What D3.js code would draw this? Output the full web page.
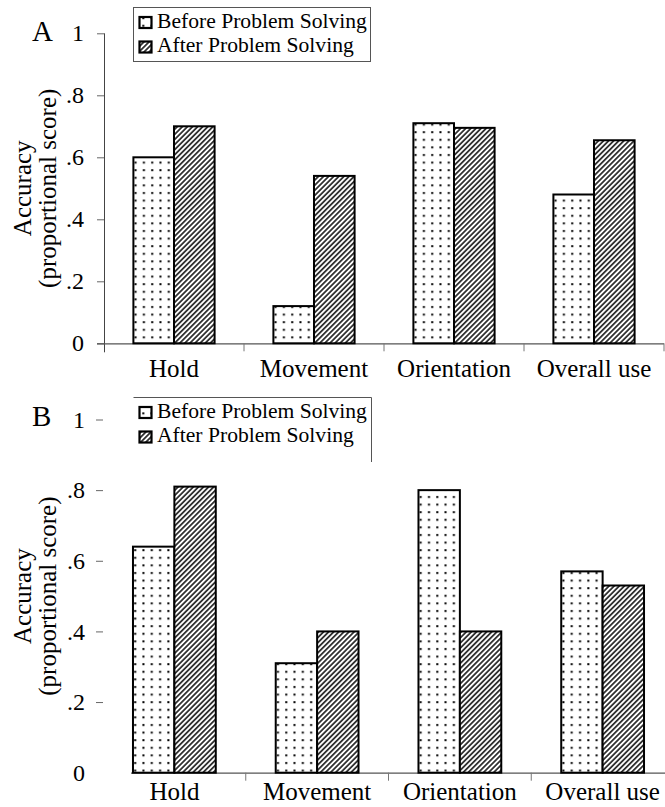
<!DOCTYPE html>
<html>
<head>
<meta charset="utf-8">
<script src="https://cdn.jsdelivr.net/npm/d3@7"></script>
<style>
  html, body { margin: 0; padding: 0; background: #fff; }
  svg { display: block; }
  svg text { font-family: "Liberation Serif", Tinos, "Times New Roman", "DejaVu Serif", serif !important; fill: #000; }
</style>
</head>
<body>
<svg id="chart" width="665" height="807"></svg>
<script>
// Accuracy before and after problem solving, two panels (A and B)
const categories = ["Hold", "Movement", "Orientation", "Overall use"];
const seriesNames = ["Before Problem Solving", "After Problem Solving"];
const beforeA = [0.60, 0.12, 0.71, 0.48];
const afterA  = [0.70, 0.54, 0.695, 0.655];
const beforeB = [0.64, 0.31, 0.80, 0.57];
const afterB  = [0.81, 0.40, 0.40, 0.53];
const yTicks = [0, 0.2, 0.4, 0.6, 0.8, 1];
const yTickLabels = ["0", ".2", ".4", ".6", ".8", "1"];
const yTitle = ["Accuracy", "(proportional score)"];

const FONT = "'Liberation Serif', Tinos, 'Times New Roman', 'DejaVu Serif', serif";

const svg = d3.select("#chart");
const defs = svg.append("defs");

// dotted fill
const dots = defs.append("pattern")
  .attr("id", "dots").attr("patternUnits", "userSpaceOnUse")
  .attr("width", 8.3).attr("height", 7.6);
dots.append("rect").attr("width", 8.3).attr("height", 7.6).attr("fill", "#fff");
dots.append("rect").attr("x", 1.2).attr("y", 2).attr("width", 2).attr("height", 2).attr("fill", "#000");

// diagonal hatch fill
const hatch = defs.append("pattern")
  .attr("id", "hatch").attr("patternUnits", "userSpaceOnUse")
  .attr("width", 3.6).attr("height", 10)
  .attr("patternTransform", "rotate(45)");
hatch.append("rect").attr("width", 3.6).attr("height", 10).attr("fill", "#fff");
hatch.append("line").attr("x1", 1.8).attr("x2", 1.8).attr("y1", 0).attr("y2", 10)
  .attr("stroke", "#000").attr("stroke-width", 1.45);

const fills = ["url(#dots)", "url(#hatch)"];

function drawPanel(cfg) {
  const g = svg.append("g").attr("font-family", FONT);
  const data = categories.map((c, i) => ({ cat: c, values: [cfg.before[i], cfg.after[i]] }));

  const x = d3.scaleBand().domain(categories).range([cfg.x0, cfg.x1]).padding(0);
  const groupW = x.bandwidth() * 0.58;
  const xs = d3.scaleBand().domain([0, 1]).range([0, groupW]).padding(0);
  const y = d3.scaleLinear().domain([0, 1]).range([cfg.yBase, cfg.yTop]);

  // y axis
  const yAxis = d3.axisLeft(y).tickValues(yTicks)
    .tickFormat((d, i) => yTickLabels[i]).tickSize(7).tickPadding(cfg.tickPad);
  const ya = g.append("g").attr("transform", `translate(${cfg.x0},0)`).call(yAxis)
    .attr("font-family", FONT);
  ya.select(".domain").attr("stroke", "#444").attr("stroke-width", 1)
    .attr("d", cfg.showYLine ? `M0.5,${cfg.yTop}V${cfg.yBase + 9}` : null)
    .style("display", cfg.showYLine ? null : "none");
  ya.selectAll(".tick line").attr("stroke", "#666").attr("stroke-width", 1);
  ya.selectAll(".tick text").attr("font-size", 24);
  if (!cfg.showZeroTick) ya.selectAll(".tick").filter(d => d === 0).select("line").remove();

  // baseline and category dividers
  g.append("line")
    .attr("x1", cfg.baseStart).attr("x2", cfg.x1)
    .attr("y1", cfg.yBase + 0.5).attr("y2", cfg.yBase + 0.5)
    .attr("stroke", "#555").attr("stroke-width", 1.2);
  g.selectAll(".divider").data(categories.slice(1).concat(["__end"]))
    .join("line").attr("class", "divider")
    .attr("x1", d => d === "__end" ? cfg.x1 : x(d))
    .attr("x2", d => d === "__end" ? cfg.x1 : x(d))
    .attr("y1", cfg.yBase).attr("y2", cfg.yBase + 8)
    .attr("stroke", "#777").attr("stroke-width", 1);

  // category labels
  const xa = g.append("g").attr("transform", `translate(0,${cfg.yBase})`)
    .call(d3.axisBottom(x).tickSize(0).tickPadding(cfg.labelPad))
    .attr("font-family", FONT);
  xa.select(".domain").remove();
  xa.selectAll(".tick text").attr("font-size", 25);

  // bars
  const groups = g.selectAll(".grp").data(data).join("g").attr("class", "grp")
    .attr("transform", d => `translate(${x(d.cat) + (x.bandwidth() - groupW) / 2},0)`);
  groups.selectAll("rect").data(d => d.values).join("rect")
    .attr("x", (v, i) => xs(i))
    .attr("width", xs.bandwidth())
    .attr("y", v => y(v))
    .attr("height", v => cfg.yBase - y(v))
    .attr("fill", (v, i) => fills[i])
    .attr("stroke", "#000").attr("stroke-width", 2);

  // y title
  const cy = (cfg.yTop + cfg.yBase) / 2;
  yTitle.forEach((t, i) => {
    g.append("text")
      .attr("transform", `translate(${cfg.titleX[i]},${cy}) rotate(-90)`)
      .attr("text-anchor", "middle").attr("font-size", 25).text(t);
  });

  // panel letter
  g.append("text").attr("x", 32).attr("y", cfg.letterY)
    .attr("font-size", 29).text(cfg.letter);

  // legend
  const lg = g.append("g");
  if (cfg.legendBox) {
    lg.append("rect").attr("x", cfg.lx + 0.5).attr("y", cfg.ly + 0.5)
      .attr("width", cfg.lw).attr("height", cfg.lh)
      .attr("fill", "none").attr("stroke", "#555").attr("stroke-width", 1);
  } else {
    lg.append("path")
      .attr("d", `M${cfg.lx + 0.5},${cfg.ly + 0.5}H${cfg.lx + cfg.lw + 0.5}V${cfg.ly + cfg.lh}`)
      .attr("fill", "none").attr("stroke", "#555").attr("stroke-width", 1);
  }
  seriesNames.forEach((s, i) => {
    const by = cfg.ly + 20.5 + i * 24.5;
    lg.append("rect").attr("x", cfg.lx + 6.5).attr("y", by - 10.5)
      .attr("width", 12).attr("height", 11)
      .attr("fill", fills[i]).attr("stroke", "#000").attr("stroke-width", 2.2);
    lg.append("text").attr("x", cfg.lx + 24).attr("y", by)
      .attr("font-size", 21.6).text(s);
  });
}

drawPanel({
  letter: "A", letterY: 41,
  before: beforeA, after: afterA,
  x0: 104, x1: 664, yTop: 33.3, yBase: 343.3,
  showYLine: true, showZeroTick: true, tickPad: 13, baseStart: 97,
  labelPad: 16, titleX: [31, 56],
  legendBox: true, lx: 133, ly: 7, lw: 237, lh: 54
});

drawPanel({
  letter: "B", letterY: 426,
  before: beforeB, after: afterB,
  x0: 103, x1: 674, yTop: 419.5, yBase: 772.7,
  showYLine: false, showZeroTick: false, tickPad: 11, baseStart: 131,
  labelPad: 10, titleX: [31, 56],
  legendBox: false, lx: 133, ly: 397, lw: 238, lh: 65
});
</script>
</body>
</html>
